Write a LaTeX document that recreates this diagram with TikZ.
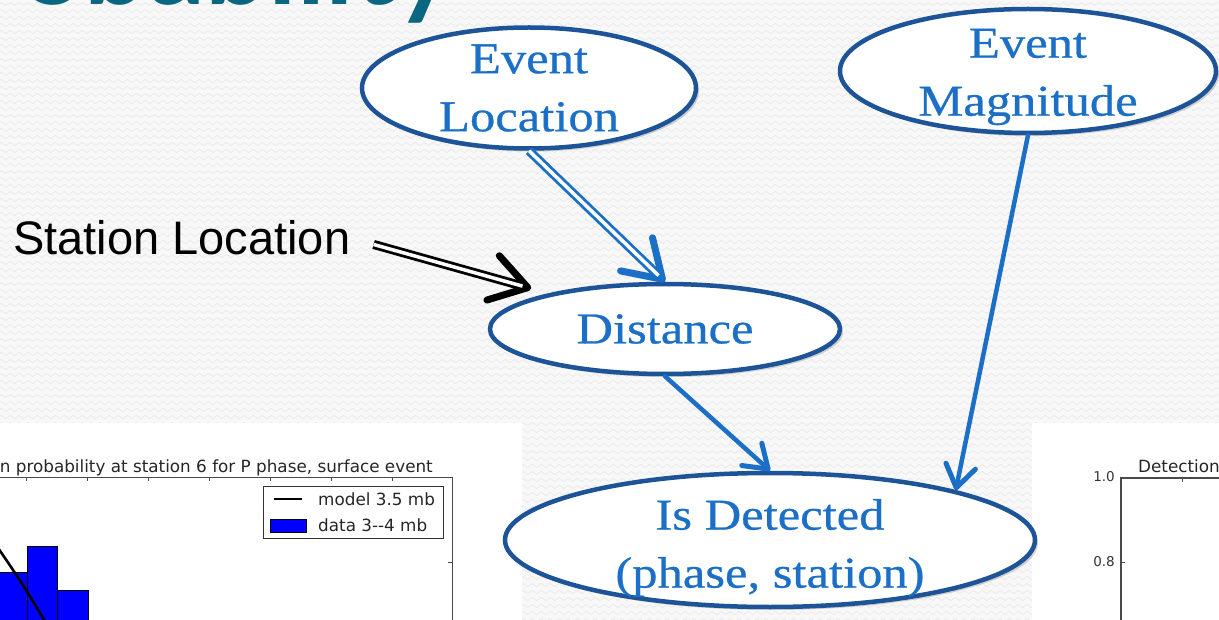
\documentclass[tikz,border=0pt]{standalone}
\usepackage{fontspec}
\setmainfont{Liberation Serif}
\newfontfamily\nodefont[FakeStretch=1.15, FakeBold=0.6]{Liberation Serif}
\newfontfamily\labelfont{Liberation Sans}
\newfontfamily\plotfont{DejaVu Sans}
\newfontfamily\titlefont{Lato}
\usetikzlibrary{arrows.meta,shapes.geometric,shadows,decorations.pathmorphing}

\definecolor{nodeedge}{HTML}{1D5397}
\definecolor{nodetext}{HTML}{1B6FC6}
\definecolor{arrowblue}{HTML}{1B6FC6}
\definecolor{titleteal}{HTML}{0B6780}
\definecolor{pagebg}{HTML}{F8F8F8}
\definecolor{zigline}{HTML}{EBEBEB}
\definecolor{mplblue}{HTML}{0000FF}
\definecolor{axisgrey}{HTML}{4A4A4A}

\tikzset{
  bayesnode/.style={ellipse, draw=nodeedge, line width=4.5pt, fill=white,
    inner sep=0pt,
    drop shadow={shadow xshift=3pt, shadow yshift=-3pt, opacity=0.3, fill=black!55}},
  nodelabel/.style={text=nodetext, font=\nodefont\fontsize{44}{58}\selectfont,
    align=center, inner sep=0pt},
  bluelink/.style={arrowblue, line width=4.5pt, line cap=round,
    -{Straight Barb[length=22pt, width=30pt, line width=5pt, round]}},
  dbltip/.style={line width=3pt,
    -{Straight Barb[length=36pt, width=46pt, line width=7pt, round]}},
  dblbody/.style={line width=2.8pt, double=white, double distance=3.5pt},
  plotaxis/.style={axisgrey, line width=1pt},
  plottext/.style={font=\plotfont\fontsize{16.8}{19}\selectfont, inner sep=0pt, text=black!85},
  ticktext/.style={font=\plotfont\fontsize{13.5}{16}\selectfont, inner sep=0pt, text=black!80},
}

\begin{document}
\begin{tikzpicture}[x=1pt, y=-1pt]
\useasboundingbox (0,0) rectangle (1219,620);
\clip (0,0) rectangle (1219,620);

% page background with a faint zigzag texture
\fill[pagebg] (0,0) rectangle (1219,620);
\foreach \r in {4,11,...,620}
  \draw[zigline, line width=0.9pt, decorate,
        decoration={zigzag, segment length=9pt, amplitude=1.6pt}] (-10,\r) -- (1230,\r);

% heading (only its lower part lies on the page)
\node[anchor=base west, font=\titlefont\bfseries\fontsize{112}{120}\selectfont,
      text=titleteal, inner sep=0pt] (heading) at (20,5) {obability};

% ---------- left histogram panel ----------
\fill[white] (0,423) rectangle (522,620);
\node[plottext, anchor=base east] (lefttitle) at (433,472)
  {n probability at station 6 for P phase, surface event};
\filldraw[fill=mplblue, draw=black, line width=0.6pt] (-3,572) rectangle (27,625);
\filldraw[fill=mplblue, draw=black, line width=0.6pt] (27,546) rectangle (57,625);
\filldraw[fill=mplblue, draw=black, line width=0.6pt] (57,590) rectangle (88,625);
\draw[black, line width=2.6pt] (-4,545) .. controls (12,568) and (30,595) .. (47,625);
\draw[plotaxis] (-5,477) -- (452,477) -- (452,625);
\foreach \tx in {26,87,148,209,270,331,392}
  \draw[plotaxis] (\tx,477) -- (\tx,481);
\draw[plotaxis] (452,562) -- (448,562);
% legend
\draw[fill=white, draw=black!80, line width=0.8pt] (263,486) rectangle (443,538);
\draw[black, line width=2.8pt] (274,499) -- (302,499);
\filldraw[fill=mplblue, draw=black, line width=0.6pt] (270,519) rectangle (306,532);
\node[plottext, anchor=base west] (legmodel) at (318,505) {model 3.5 mb};
\node[plottext, anchor=base west] (legdata) at (318,531) {data 3-{}-4 mb};

% ---------- right detection panel ----------
\fill[white] (1032,423) rectangle (1219,620);
\node[plottext, anchor=base west] (righttitle) at (1138,472) {Detection};
\draw[plotaxis, line width=1.3pt] (1121,625) -- (1121,478) -- (1225,478);
\draw[plotaxis] (1182,478) -- (1182,482);
\draw[plotaxis] (1121,562) -- (1125,562);
\node[ticktext, anchor=east] (ytickA) at (1115,477) {1.0};
\node[ticktext, anchor=east] (ytickB) at (1115,562) {0.8};

% ---------- network nodes ----------
\node[bayesnode, minimum width=334pt, minimum height=121pt,
      label={[nodelabel]center:Event\\Location}] (loc) at (529,88) {};
\node[bayesnode, minimum width=376pt, minimum height=124pt,
      label={[nodelabel, yshift=-6pt]center:Event\\Magnitude}] (mag) at (1028,71) {};
\node[bayesnode, minimum width=350pt, minimum height=90pt,
      label={[nodelabel]center:Distance}] (dist) at (665,329) {};
\node[bayesnode, minimum width=530pt, minimum height=134pt,
      label={[nodelabel, yshift=-8pt]center:Is Detected\\(phase, station)}] (det) at (770,540) {};

\node[anchor=west, font=\labelfont\fontsize{47}{50}\selectfont, inner sep=0pt]
  (stn) at (13,238) {Station Location};

% ---------- connectors ----------
% event location -> distance (hollow double shaft)
\draw[arrowblue, dbltip] (loc.south) -- (dist.north);
\draw[arrowblue, dblbody, shorten >=9pt] (loc.south) -- (dist.north);
% station location -> distance (hollow double shaft)
\draw[black, dbltip, shorten <=24pt, shorten >=18pt] (stn.east) -- (dist.163);
\draw[black, dblbody, shorten <=24pt, shorten >=27pt] (stn.east) -- (dist.163);
% distance -> is detected, magnitude -> is detected
\draw[bluelink] (dist.south) -- (det.north);
\draw[bluelink] (mag.south) -- (det.15);
\end{tikzpicture}
\end{document}
